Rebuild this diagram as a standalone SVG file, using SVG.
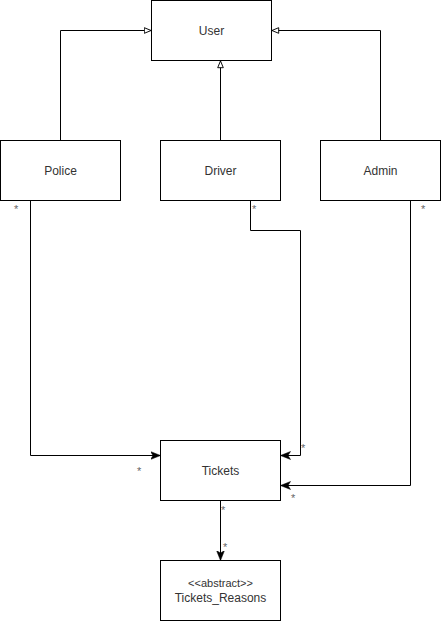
<svg xmlns="http://www.w3.org/2000/svg" width="441" height="621" viewBox="0 0 441 621">
<style>
.box{fill:#fff;stroke:#000;stroke-width:1}
.lbl{font-family:"Liberation Sans",Arial,sans-serif;font-size:12px;fill:#333;text-anchor:middle}
.m{font-family:"Liberation Sans",Arial,sans-serif;font-size:11px;fill:#666}
.c{fill:none;stroke:#000;stroke-width:1}
</style>
<defs>
<marker id="tri" viewBox="0 0 10 10" refX="10" refY="5" markerWidth="8" markerHeight="8" markerUnits="userSpaceOnUse" orient="auto">
<path d="M1,1.5 L9.5,5 L1,8.5 Z" fill="#fff" stroke="#000" stroke-width="1.2"/>
</marker>
<marker id="arr" viewBox="0 0 10 10" refX="10" refY="5" markerWidth="10" markerHeight="10" markerUnits="userSpaceOnUse" orient="auto">
<path d="M0,1 L10,5 L0,9 L2.5,5 Z" fill="#000" stroke="#000" stroke-width="0.5"/>
</marker>
</defs>
<g id="connectors">
<path class="c" d="M60.5,140.5 V30.5 H151.5" marker-end="url(#tri)"/>
<path class="c" d="M220.5,140.5 V60.5" marker-end="url(#tri)"/>
<path class="c" d="M380.5,140.5 V30.5 H271.5" marker-end="url(#tri)"/>
<path class="c" d="M30.5,200.5 V455.5 H160.5" marker-end="url(#arr)"/>
<path class="c" d="M250.5,200.5 V230.5 H300.5 V455.5 H280.5" marker-end="url(#arr)"/>
<path class="c" d="M410.5,200.5 V485.5 H280.5" marker-end="url(#arr)"/>
<path class="c" d="M220.5,500.5 V560.5" marker-end="url(#arr)"/>
<text class="m" x="14" y="213">*</text>
<text class="m" x="252" y="213">*</text>
<text class="m" x="421" y="213">*</text>
<text class="m" x="137" y="475">*</text>
<text class="m" x="301" y="452">*</text>
<text class="m" x="291" y="502">*</text>
<text class="m" x="221" y="514">*</text>
<text class="m" x="223" y="551">*</text>
</g>
<g id="user"><rect class="box" x="151.5" y="0.5" width="120" height="60"/><text class="lbl" x="211.5" y="35">User</text></g>
<g id="police"><rect class="box" x="0.5" y="140.5" width="120" height="60"/><text class="lbl" x="60.5" y="175">Police</text></g>
<g id="driver"><rect class="box" x="160.5" y="140.5" width="120" height="60"/><text class="lbl" x="220.5" y="175">Driver</text></g>
<g id="admin"><rect class="box" x="320.5" y="140.5" width="120" height="60"/><text class="lbl" x="380.5" y="175">Admin</text></g>
<g id="tickets"><rect class="box" x="160.5" y="440.5" width="120" height="60"/><text class="lbl" x="220.5" y="475">Tickets</text></g>
<g id="tickets_reasons"><rect class="box" x="160.5" y="560.5" width="120" height="60"/><text class="lbl" x="220.5" y="587" style="font-size:11px">&lt;&lt;abstract&gt;&gt;</text><text class="lbl" x="220.5" y="602">Tickets_Reasons</text></g>
</svg>
